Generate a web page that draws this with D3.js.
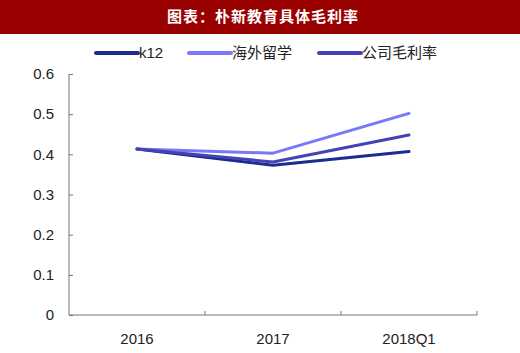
<!DOCTYPE html>
<html>
<head>
<meta charset="utf-8">
<script src="https://cdn.jsdelivr.net/npm/d3@7"></script>
<style>
  body { margin: 0; background: #fff; }
  text { font-family: Arial, "Liberation Sans", "Noto Sans CJK SC", sans-serif; }
</style>
</head>
<body>
<div id="chart"></div>
<script>
var w = 520, h = 353;
var margin = { top: 74, right: 43, bottom: 38, left: 69 };
var width = w - margin.left - margin.right;
var height = h - margin.top - margin.bottom;

// data
var categories = ["2016", "2017", "2018Q1"];
var seriesNames = ["k12", "海外留学", "公司毛利率"];
var k12 = [0.413, 0.373, 0.407];
var overseas = [0.413, 0.403, 0.502];
var company = [0.413, 0.381, 0.448];
var yTicks = [0, 0.1, 0.2, 0.3, 0.4, 0.5, 0.6];
var colors = ["#1c2b8f", "#7878f8", "#4343b4"];

var series = [k12, overseas, company];

var svg = d3.select("#chart").append("svg")
  .attr("width", w)
  .attr("height", h);

// title bar
svg.append("rect").attr("x", 0).attr("y", 0).attr("width", w).attr("height", 34).attr("fill", "#990000");
svg.append("text")
  .attr("x", 263).attr("y", 22)
  .attr("text-anchor", "middle")
  .attr("fill", "#fff")
  .style("font-family", "'Noto Sans CJK SC', sans-serif")
  .style("font-weight", "bold")
  .style("font-size", "15px")
  .style("letter-spacing", "1px")
  .text("图表：朴新教育具体毛利率");

var g = svg.append("g")
  .attr("transform", "translate(" + margin.left + "," + margin.top + ")");

var xScale = d3.scaleBand().domain(categories).range([0, width]);
var yScale = d3.scaleLinear().domain([0, 0.6]).range([height, 0]);

var yAxis = d3.axisLeft(yScale).tickValues(yTicks).tickSize(4)
  .tickFormat(function(d) { return d === 0 ? "0" : d3.format(".1f")(d); });

// y axis
var gy = g.append("g").call(yAxis);
gy.select(".domain").attr("d", "M0,0V" + height).attr("stroke", "#777");
gy.selectAll(".tick line").attr("x2", 4).attr("stroke", "#777");
gy.selectAll(".tick text").attr("x", -15).style("font-size", "15px").attr("fill", "#222");

// x axis, ticks at band boundaries pointing up
var gx = g.append("g").attr("transform", "translate(0," + height + ")");
gx.append("path").attr("d", "M0,0H" + width).attr("stroke", "#777").attr("fill", "none");
var bounds = categories.map(function(c) { return xScale(c) + xScale.bandwidth(); });
gx.selectAll(".bt").data(bounds).enter().append("line")
  .attr("x1", function(d) { return d; }).attr("x2", function(d) { return d; })
  .attr("y1", 0).attr("y2", -4).attr("stroke", "#777");
gx.selectAll(".lbl").data(categories).enter().append("text")
  .attr("x", function(d) { return xScale(d) + xScale.bandwidth() / 2; })
  .attr("y", 29)
  .attr("text-anchor", "middle")
  .style("font-size", "15px")
  .attr("fill", "#222")
  .text(function(d) { return d; });

// lines
var line = d3.line()
  .x(function(d, i) { return xScale(categories[i]) + xScale.bandwidth() / 2; })
  .y(function(d) { return yScale(d); });

series.forEach(function(s, i) {
  g.append("path")
    .datum(s)
    .attr("d", line)
    .attr("fill", "none")
    .attr("stroke", colors[i])
    .attr("stroke-width", 3)
    .attr("stroke-linecap", "round")
    .attr("stroke-linejoin", "round");
});

// legend
var legendX = [96, 189, 319];
var legend = svg.append("g");
seriesNames.forEach(function(name, i) {
  legend.append("line")
    .attr("x1", legendX[i]).attr("x2", legendX[i] + 42)
    .attr("y1", 53).attr("y2", 53)
    .attr("stroke", colors[i]).attr("stroke-width", 4).attr("stroke-linecap", "round");
  legend.append("text")
    .attr("x", legendX[i] + 43).attr("y", 58)
    .style("font-size", "15px")
    .attr("fill", "#222")
    .text(name);
});
</script>
</body>
</html>
